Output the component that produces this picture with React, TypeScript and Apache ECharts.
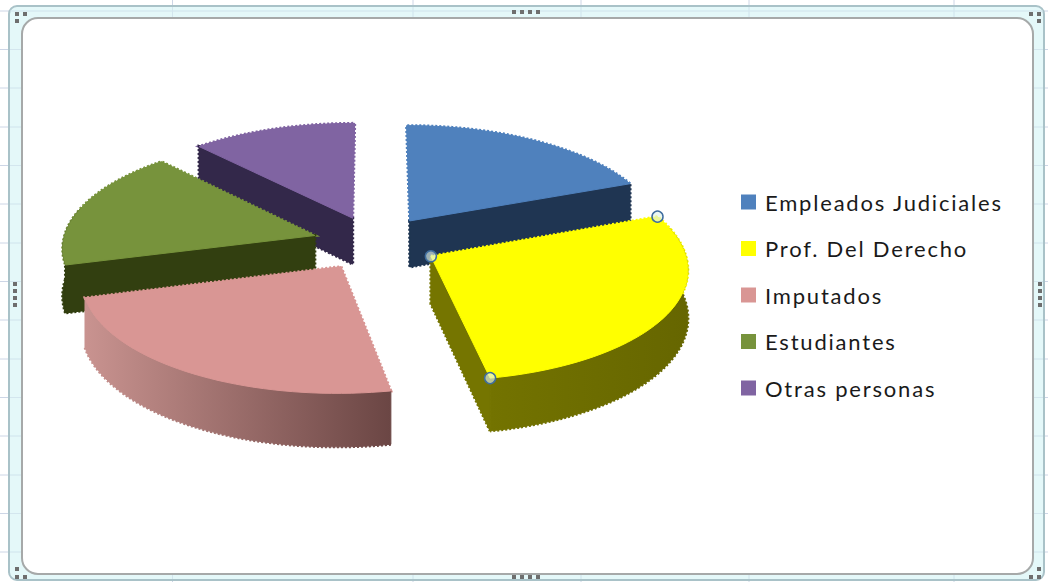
import React, { useEffect, useRef } from "react";
import * as echarts from "echarts";

const categories = ["Empleados Judiciales", "Prof. Del Derecho", "Imputados", "Estudiantes", "Otras personas"];
const values = [19, 28, 23.7, 17.5, 11.8];
const topColors = ["#4f81bd", "#ffff00", "#d99694", "#77933c", "#8064a2"];
const wallColors = ["#1f3552", "#757500", "#8f6462", "#323f10", "#33284a"];
const arcStops: string[][] = [
  ["#1f3552", "#1f3552"],
  ["#737300", "#666600"],
  ["#c99390", "#6b4644"],
  ["#323f10", "#323f10"],
  ["#33284a", "#33284a"],
];
const gridRows = [11, 49.5, 88, 127, 165.5, 204, 243, 281.5, 320, 359, 397.5, 436, 475, 513.5, 552];
const gridCols = [172.5, 413, 581, 749, 954];

const W = 1048, H = 582;
const CX = 375, CY = 243, A = 252, B = 109, K = 0.1, EXPLODE = 0.25, DEPTH = 47;
const total = values.reduce((a, b) => a + b, 0);
const rad = (d: number) => (d * Math.PI) / 180;
const starts = values.map((_, i) => (values.slice(0, i).reduce((a, b) => a + b, 0) / total) * 360);
const sweeps = values.map((v) => (v / total) * 360);

function project(u: number, v: number, z: number) {
  const s = 1 / (1 - K * v);
  return [CX + A * u * s, CY + B * v * s + z * DEPTH * s];
}

function makeSlice(i: number) {
  const start = starts[i], end = start + sweeps[i], mid = start + sweeps[i] / 2;
  const ou = EXPLODE * Math.sin(rad(mid)), ov = -EXPLODE * Math.cos(rad(mid));
  const at = (deg: number, r: number, z: number) =>
    project(ou + r * Math.sin(rad(deg)), ov - r * Math.cos(rad(deg)), z);
  const arc = (a0: number, a1: number, z: number) => {
    const n = Math.max(2, Math.ceil((a1 - a0) / 2));
    const pts: number[][] = [];
    for (let k = 0; k <= n; k++) pts.push(at(a0 + ((a1 - a0) * k) / n, 1, z));
    return pts;
  };
  const children: any[] = [];
  let order = 1;
  const rim = (points: number[][], fill: any) =>
    children.push({
      type: "polygon",
      shape: { points },
      z2: order++,
      style: { fill, stroke: fill, lineWidth: 3, lineDash: [2, 2] },
    });
  const rimLine = (points: number[][], stroke: any) =>
    children.push({
      type: "polyline",
      shape: { points },
      z2: order++,
      style: { fill: "none", stroke, lineWidth: 3, lineDash: [2, 2] },
    });
  const body = (points: number[][], fill: any) =>
    children.push({
      type: "polygon",
      shape: { points },
      z2: order++,
      style: { fill, stroke: fill, lineWidth: 1 },
    });
  const topFace = [at(start, 0, 0), ...arc(start, end, 0)];
  const radial = (d: number) => [at(d, 0, 0), at(d, 1, 0), at(d, 1, 1), at(d, 0, 1)];
  const grad = new echarts.graphic.LinearGradient(0, 0, 1, 0, [
    { offset: 0, color: arcStops[i][0] },
    { offset: 1, color: arcStops[i][1] },
  ]);
  // rim of the top first, so that it shows only against the white page
  rim(topFace, topColors[i]);
  const a0 = Math.max(start, 75), a1 = Math.min(end, 285);
  if (a1 > a0) {
    rimLine(arc(a0, a1, 1), grad);
    body(arc(a0, a1, 0).concat(arc(a0, a1, 1).reverse()), grad);
  }
  [
    { d: start, front: -Math.sin(rad(start)) > 0.001 },
    { d: end, front: Math.sin(rad(end)) > 0.001 },
  ].forEach((w) => {
    if (w.front) {
      rim(radial(w.d), wallColors[i]);
      body(radial(w.d), wallColors[i]);
    }
  });
  body(topFace, topColors[i]);
  if (i === 1) {
    [at(start, 0, 0), at(start, 1, 0), at(end, 1, 0)].forEach((p) =>
      children.push({
        type: "circle",
        shape: { cx: p[0], cy: p[1], r: 5.5 },
        z2: order + 1,
        style: { fill: "rgba(225,242,235,0.65)", stroke: "#3f6d9e", lineWidth: 1.5 },
      })
    );
  }
  return { type: "group", children };
}

function handles(xs: number[], ys: number[]) {
  const out: any[] = [];
  xs.forEach((x) => ys.forEach((y) => out.push({ type: "rect", z: 1, shape: { x, y, width: 4, height: 4 }, style: { fill: "#6e6e6e" } })));
  return out;
}

const graphicEls: any[] = [
  ...gridRows.map((y) => ({ type: "line", z: 0, shape: { x1: 0, y1: y, x2: W, y2: y }, style: { stroke: "#cdd6e6", lineWidth: 1 } })),
  ...gridCols.map((x) => ({ type: "line", z: 0, shape: { x1: x, y1: 0, x2: x, y2: H }, style: { stroke: "#cdd6e6", lineWidth: 1 } })),
  { type: "rect", z: 0, shape: { x: 9, y: 6, width: 1035, height: 574, r: 8 }, style: { fill: "rgba(222,246,248,0.82)", stroke: "#a9c2c8", lineWidth: 2 } },
  ...gridRows.map((y) => ({ type: "line", z: 0, shape: { x1: 10, y1: y, x2: 1043, y2: y }, style: { stroke: "#d3e6ee", lineWidth: 1 } })),
  ...gridCols.map((x) => ({ type: "line", z: 0, shape: { x1: x, y1: 7, x2: x, y2: 579 }, style: { stroke: "#d3e6ee", lineWidth: 1 } })),
  { type: "rect", z: 0, shape: { x: 22, y: 18, width: 1011, height: 556, r: 16 }, style: { fill: "#ffffff", stroke: "#a6a9a9", lineWidth: 2 } },
  ...handles([512, 520, 528, 536], [10]),
  ...handles([512, 520, 528, 536], [575]),
  ...handles([13], [282, 289, 296, 303]),
  ...handles([1038], [282, 289, 296, 303]),
  ...handles([15, 23], [12]),
  ...handles([15], [19]),
  ...handles([1029, 1037], [12]),
  ...handles([1037], [19]),
  ...handles([15, 23], [575]),
  ...handles([15], [567]),
  ...handles([1029, 1037], [575]),
  ...handles([1037], [567]),
];

export default function App() {
  const ref = useRef<HTMLDivElement>(null);
  useEffect(() => {
    const chart = echarts.init(ref.current!, undefined, { renderer: "svg" });
    chart.setOption({
      animation: false,
      backgroundColor: "#ffffff",
      graphic: { elements: graphicEls },
      legend: {
        orient: "vertical",
        left: 741,
        top: 191,
        padding: 0,
        itemWidth: 15,
        itemHeight: 15,
        itemGap: 24.5,
        icon: "rect",
        selectedMode: false,
        data: categories,
        textStyle: { fontFamily: "Lato", fontSize: 22, color: "#1a1a1a", padding: [0, 0, 0, 4] },
      },
      series: categories.map((name, i) => {
        const mid = starts[i] + sweeps[i] / 2;
        return {
          type: "custom",
          name,
          coordinateSystem: "none",
          z: 2 + (1 - Math.cos(rad(mid))),
          itemStyle: { color: topColors[i] },
          data: [values[i]],
          renderItem: () => makeSlice(i),
        };
      }),
    });
    return () => chart.dispose();
  }, []);
  return (
    <div
      ref={ref}
      style={{ position: "absolute", left: 0, top: 0, width: W, height: H, letterSpacing: "1.8px" }}
    />
  );
}
